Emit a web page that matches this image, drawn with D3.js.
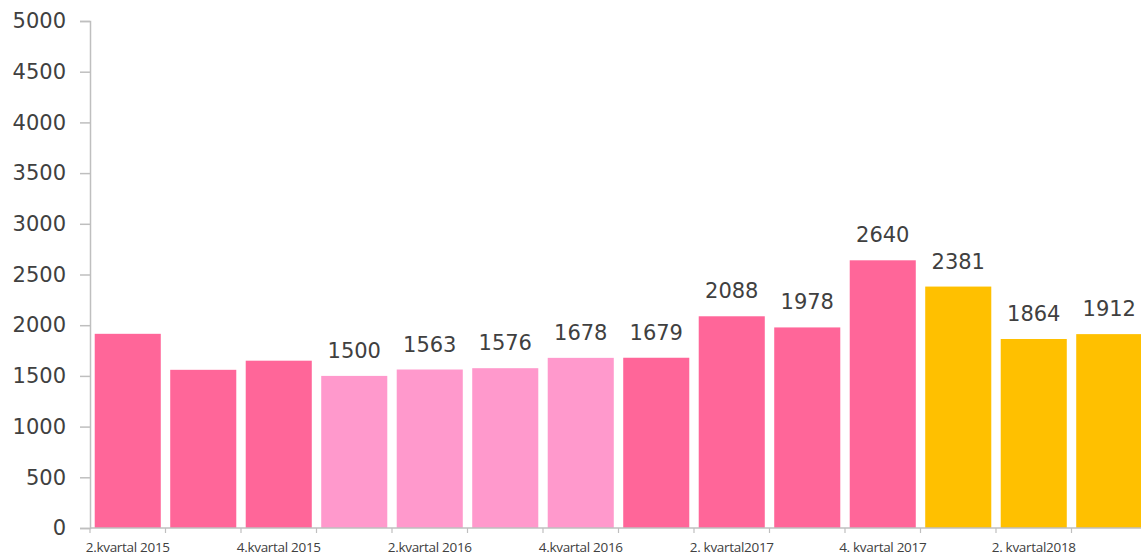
<!DOCTYPE html>
<html>
<head>
<meta charset="utf-8">
<script src="https://cdn.jsdelivr.net/npm/d3@7"></script>
<style>
  html, body { margin: 0; padding: 0; background: #ffffff; }
  svg { display: block; }
</style>
</head>
<body>
<svg id="chart" width="1141" height="556"></svg>
<script>
// ---- data ----
const categories = [
  "2.kvartal 2015", "3.kvartal 2015", "4.kvartal 2015", "1.kvartal 2016",
  "2.kvartal 2016", "3.kvartal 2016", "4.kvartal 2016", "1. kvartal 2017",
  "2. kvartal2017", "3. kvartal 2017", "4. kvartal 2017", "1. kvartal 2018",
  "2. kvartal2018", "3. kvartal 2018"
];
const values = [1915, 1560, 1650, 1500, 1563, 1576, 1678, 1679, 2088, 1978, 2640, 2381, 1864, 1912];
const colorGroup = ["dark", "dark", "dark", "light", "light", "light", "light", "dark", "dark", "dark", "dark", "gold", "gold", "gold"];
const showValueLabel = [false, false, false, true, true, true, true, true, true, true, true, true, true, true];
const yTicks = [0, 500, 1000, 1500, 2000, 2500, 3000, 3500, 4000, 4500, 5000];
const palette = { dark: "#ff6699", light: "#ff99cc", gold: "#ffc000" };

// ---- layout ----
const svg = d3.select("#chart");
const x0 = 90, x1 = 1147, yBase = 528, yTop = 21;
const numFont = "'DejaVu Sans', sans-serif";

const rows = categories.map((c, i) => ({ cat: c, value: values[i], group: colorGroup[i], label: showValueLabel[i], idx: i }));

const x = d3.scaleBand().domain(categories).range([x0, x1]).paddingInner(0.125).paddingOuter(0.0625);
const y = d3.scaleLinear().domain([0, 5000]).range([yBase, yTop]);

// bars
svg.append("g").selectAll("rect").data(rows).join("rect")
  .attr("x", d => x(d.cat))
  .attr("y", d => y(d.value))
  .attr("width", x.bandwidth())
  .attr("height", d => y(0) - y(d.value))
  .attr("fill", d => palette[d.group]);

// value labels
svg.append("g").selectAll("text").data(rows.filter(d => d.label)).join("text")
  .attr("x", d => x(d.cat) + x.bandwidth() / 2)
  .attr("y", d => y(d.value) - 18)
  .attr("text-anchor", "middle")
  .attr("font-family", numFont)
  .attr("font-size", 21)
  .attr("fill", "#404040")
  .text(d => d.value);

// y axis
const yAxis = d3.axisLeft(y).tickValues(yTicks).tickSize(10).tickPadding(14).tickFormat(d3.format("d"));
const gy = svg.append("g").attr("transform", `translate(${x0},0)`).call(yAxis);
gy.select(".domain").attr("stroke", "#bfbfbf").attr("stroke-width", 1.5);
gy.selectAll(".tick line").attr("stroke", "#bfbfbf").attr("stroke-width", 1.5);
gy.selectAll(".tick text")
  .attr("font-family", numFont)
  .attr("font-size", 21)
  .attr("fill", "#404040");

// x axis (ticks between categories)
const step = x.step();
const boundaries = d3.range(categories.length + 1).map(i => x0 + i * step);
const gx = svg.append("g");
gx.append("line")
  .attr("x1", x0).attr("x2", x1)
  .attr("y1", yBase).attr("y2", yBase)
  .attr("stroke", "#bfbfbf").attr("stroke-width", 1.5);
gx.selectAll("line.tk").data(boundaries).join("line")
  .attr("class", "tk")
  .attr("x1", d => d).attr("x2", d => d)
  .attr("y1", yBase).attr("y2", yBase + 5)
  .attr("stroke", "#bfbfbf").attr("stroke-width", 1.2);
gx.selectAll("text").data(rows.filter(d => d.idx % 2 === 0)).join("text")
  .attr("x", d => x(d.cat) + x.bandwidth() / 2)
  .attr("y", 552)
  .attr("text-anchor", "middle")
  .attr("font-family", "'Open Sans', sans-serif")
  .attr("font-size", 13.5)
  .attr("letter-spacing", -0.3)
  .attr("fill", "#404040")
  .text(d => d.cat);
</script>
</body>
</html>
